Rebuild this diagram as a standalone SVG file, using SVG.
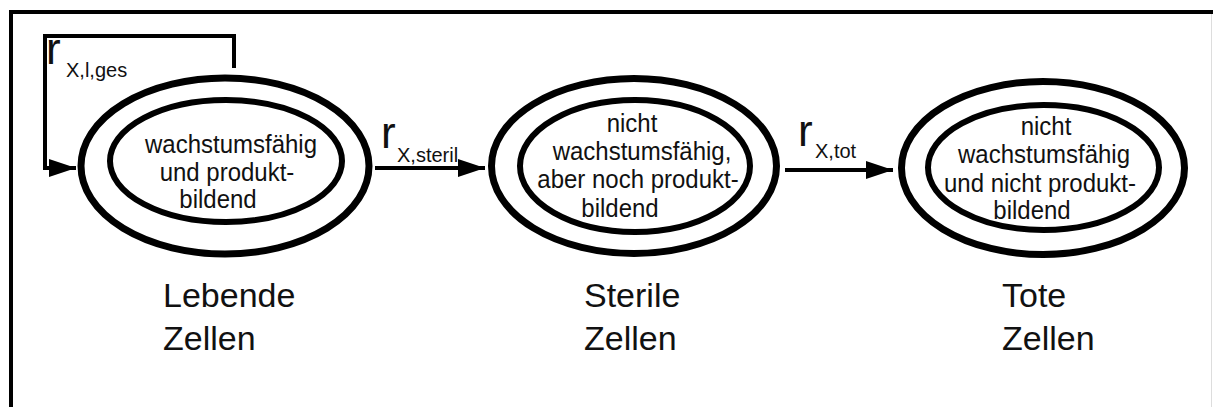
<svg xmlns="http://www.w3.org/2000/svg" width="1213" height="407" viewBox="0 0 1213 407">
<style>
.bg{fill:#ffffff}
.outer{fill:none;stroke:#000;stroke-width:7}
.inner{fill:none;stroke:#000;stroke-width:6}
.conn{fill:none;stroke:#000;stroke-width:4}
.t{font-family:"Liberation Sans",Arial,sans-serif;font-size:24px;fill:#111;text-anchor:middle}
.lab{font-family:"Liberation Sans",Arial,sans-serif;font-size:34px;fill:#111}
.r{font-family:"Liberation Sans",Arial,sans-serif;font-size:44px;fill:#111}
.sub{font-family:"Liberation Sans",Arial,sans-serif;font-size:20px;fill:#111}
</style>
<defs>
<marker id="ah" markerUnits="userSpaceOnUse" markerWidth="28" markerHeight="20" refX="27" refY="9" orient="auto">
<polygon points="0,0 27,9 0,18" fill="#000"/>
</marker>
</defs>
<rect class="bg" x="0" y="0" width="1213" height="407"/>
<g id="frame">
<path d="M11,407 V12 H1213" fill="none" stroke="#000" stroke-width="4"/>
<line x1="1211.5" y1="14" x2="1211.5" y2="407" stroke="#dddddd" stroke-width="1"/>
</g>
<g id="connectors">
<path class="conn" d="M234,68 V36 H45 V168 H76" marker-end="url(#ah)"/>
<path class="conn" d="M375,168 H485" marker-end="url(#ah)"/>
<path class="conn" d="M785,170 H893" marker-end="url(#ah)"/>
<g id="label-loop">
<text class="r" x="46" y="64">r</text>
<text class="sub" x="66" y="77">X,l,ges</text>
</g>
<g id="label-steril">
<text class="r" x="381" y="148">r</text>
<text class="sub" x="397" y="162">X,steril</text>
</g>
<g id="label-tot">
<text class="r" x="798" y="146">r</text>
<text class="sub" x="815" y="158">X,tot</text>
</g>
</g>
<g id="node-lebend">
<ellipse class="outer" cx="225" cy="166" rx="144" ry="88"/>
<ellipse class="inner" cx="226" cy="161" rx="116" ry="61"/>
<text class="t" transform="translate(231,153) scale(1,1.1)">wachstumsfähig</text>
<text class="t" transform="translate(227,181) scale(1,1.1)">und produkt-</text>
<text class="t" transform="translate(218,208) scale(1,1.1)">bildend</text>
<text class="lab" x="163" y="307">Lebende</text>
<text class="lab" x="163" y="350">Zellen</text>
</g>
<g id="node-steril">
<ellipse class="outer" cx="634" cy="166" rx="142.5" ry="87.5"/>
<ellipse class="inner" cx="635" cy="166" rx="115" ry="66"/>
<text class="t" transform="translate(632,132) scale(1,1.1)">nicht</text>
<text class="t" transform="translate(642,160) scale(1,1.1)">wachstumsfähig,</text>
<text class="t" transform="translate(638,188) scale(1,1.1)">aber noch produkt-</text>
<text class="t" transform="translate(620,217) scale(1,1.1)">bildend</text>
<text class="lab" x="584" y="307">Sterile</text>
<text class="lab" x="584" y="350">Zellen</text>
</g>
<g id="node-tot">
<ellipse class="outer" cx="1043" cy="168" rx="141.5" ry="86.5"/>
<ellipse class="inner" cx="1043.5" cy="167.5" rx="115.5" ry="62.5"/>
<text class="t" transform="translate(1046,135) scale(1,1.1)">nicht</text>
<text class="t" transform="translate(1044,163) scale(1,1.1)">wachstumsfähig</text>
<text class="t" transform="translate(1040,192) scale(1,1.1)">und nicht produkt-</text>
<text class="t" transform="translate(1032,219) scale(1,1.1)">bildend</text>
<text class="lab" x="1002" y="307">Tote</text>
<text class="lab" x="1002" y="350">Zellen</text>
</g>
</svg>
